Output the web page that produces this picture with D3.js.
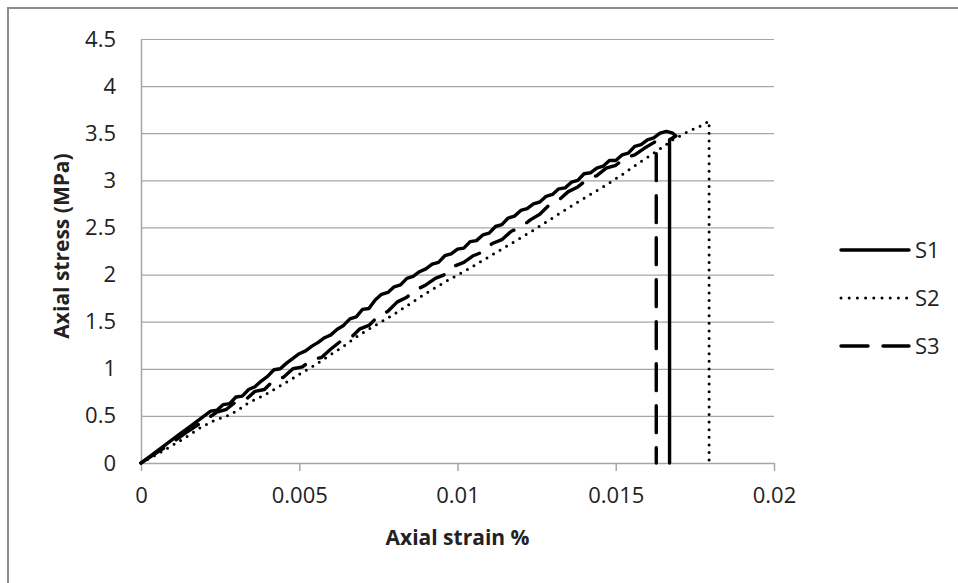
<!DOCTYPE html>
<html>
<head>
<meta charset="utf-8">
<script src="https://cdn.jsdelivr.net/npm/d3@7"></script>
<style>
  html, body { margin: 0; padding: 0; background: #fff; }
  svg { display: block; font-family: "Open Sans", sans-serif; }
</style>
</head>
<body>
<svg id="chart" width="958" height="583"></svg>
<script>
// Axis ticks
const xTicks = [0, 0.005, 0.01, 0.015, 0.02];
const yTicks = [0, 0.5, 1, 1.5, 2, 2.5, 3, 3.5, 4, 4.5];

// Series: [axial strain %, axial stress MPa]
const s1 = [
  [0,0],[0.0004,0.10],[0.0008,0.20],[0.0012,0.30],[0.0016,0.40],[0.0020,0.50],
  [0.0022,0.55],[0.0024,0.56],[0.0026,0.62],[0.0028,0.63],[0.0030,0.70],[0.0032,0.71],
  [0.0034,0.78],[0.0036,0.81],[0.0038,0.87],[0.0040,0.92],[0.0042,0.99],[0.0044,1.00],
  [0.0046,1.06],[0.0048,1.11],[0.0050,1.16],[0.0052,1.19],[0.0054,1.24],[0.0056,1.28],
  [0.0058,1.33],[0.0060,1.36],[0.0062,1.42],[0.0064,1.46],[0.0066,1.53],[0.0068,1.55],
  [0.0070,1.63],[0.0072,1.64],[0.0074,1.73],[0.0076,1.79],[0.0078,1.81],[0.0080,1.87],
  [0.0082,1.89],[0.0084,1.96],[0.0086,1.98],[0.0088,2.03],[0.0090,2.06],[0.0092,2.11],
  [0.0094,2.13],[0.0096,2.20],[0.0098,2.22],[0.0100,2.27],[0.0102,2.28],[0.0104,2.35],
  [0.0106,2.36],[0.0108,2.42],[0.0110,2.44],[0.0112,2.51],[0.0114,2.53],[0.0116,2.60],
  [0.0118,2.62],[0.0120,2.68],[0.0122,2.70],[0.0124,2.75],[0.0126,2.77],[0.0128,2.83],
  [0.0130,2.85],[0.0132,2.91],[0.0134,2.92],[0.0136,2.98],[0.0138,3.00],[0.0140,3.07],
  [0.0142,3.08],[0.0144,3.13],[0.0146,3.15],[0.0148,3.21],[0.0150,3.21],[0.0152,3.27],
  [0.0154,3.29],[0.0156,3.36],[0.0158,3.38],[0.0160,3.43],[0.0162,3.45],[0.0164,3.50],
  [0.0166,3.52],[0.0168,3.50],[0.0169,3.47],[0.0167,3.43],[0.0167,0]
];
const s2 = [
  [0,0],[0.0005,0.09],[0.0010,0.19],[0.0015,0.29],[0.0019,0.38],[0.0023,0.45],
  [0.0028,0.51],[0.0031,0.57],[0.0034,0.64],[0.0039,0.72],[0.0044,0.82],[0.0049,0.92],
  [0.0054,1.02],[0.0059,1.13],[0.0064,1.24],[0.0069,1.36],[0.0075,1.48],[0.0080,1.58],
  [0.0085,1.69],[0.0090,1.80],[0.0097,1.94],[0.0103,2.05],[0.0109,2.17],[0.0117,2.33],
  [0.0123,2.45],[0.0130,2.60],[0.0138,2.77],[0.0147,2.95],[0.0152,3.06],[0.0158,3.20],
  [0.0163,3.31],[0.0168,3.43],[0.0173,3.52],[0.0177,3.58],[0.01795,3.63],[0.01795,0]
];
const s3 = [
  [0,0],[0.0005,0.11],[0.0010,0.22],[0.0015,0.34],[0.0020,0.45],[0.0024,0.54],
  [0.0027,0.57],[0.0030,0.65],[0.0033,0.67],[0.0036,0.76],[0.0039,0.78],[0.0042,0.88],
  [0.0045,0.91],[0.0048,1.00],[0.0051,1.02],[0.0054,1.10],[0.0057,1.12],[0.0060,1.21],
  [0.0063,1.29],[0.0066,1.32],[0.0069,1.42],[0.0072,1.46],[0.0075,1.56],[0.0078,1.61],
  [0.0081,1.71],[0.0084,1.76],[0.0087,1.84],[0.0090,1.89],[0.0093,1.96],[0.0096,2.00],
  [0.0099,2.09],[0.0102,2.13],[0.0105,2.20],[0.0108,2.24],[0.0111,2.33],[0.0114,2.37],
  [0.0117,2.46],[0.0120,2.50],[0.0123,2.58],[0.0126,2.64],[0.0129,2.74],[0.0132,2.79],
  [0.0135,2.88],[0.0138,2.93],[0.0141,3.01],[0.0144,3.05],[0.0147,3.13],[0.0150,3.16],
  [0.0153,3.24],[0.0156,3.27],[0.0159,3.34],[0.0162,3.40],[0.01628,3.42],[0.01628,0]
];

const seriesNames = ["S1", "S2", "S3"];

const styles = {
  S1: { width: 3.4, dash: null, cap: "round" },
  S2: { width: 3, dash: "0,7.6", cap: "round" },
  S3: { width: 3.4, dash: "27,15", cap: "round" }
};

const svg = d3.select("#chart");
const plot = { left: 141, right: 774, top: 39, bottom: 463 };

// chart frame
svg.append("rect")
  .attr("x", 8).attr("y", 8)
  .attr("width", 1000).attr("height", 700)
  .attr("fill", "#fff").attr("stroke", "#8c8c8c").attr("stroke-width", 2);

const x = d3.scaleLinear().domain([0, 0.02]).range([plot.left, plot.right]);
const y = d3.scaleLinear().domain([0, 4.5]).range([plot.bottom, plot.top]);

// horizontal gridlines
svg.append("g")
  .attr("transform", `translate(${plot.left},0)`)
  .call(d3.axisLeft(y).tickValues(yTicks).tickSize(-(plot.right - plot.left)).tickFormat(""))
  .call(g => g.select(".domain").remove())
  .call(g => g.selectAll("line").attr("stroke", "#a6a6a6").attr("stroke-width", 1.2));

// y axis
svg.append("g")
  .attr("transform", `translate(${plot.left},0)`)
  .call(d3.axisLeft(y).tickValues(yTicks).tickSize(0).tickPadding(25).tickFormat(d => d3.format("")(d)))
  .call(g => g.select(".domain").attr("stroke", "#a6a6a6").attr("stroke-width", 1.5))
  .call(g => g.selectAll("text").attr("fill", "#222").style("font-size", "22px")
    .style("font-family", '"Open Sans", sans-serif'));

// x axis
svg.append("g")
  .attr("transform", `translate(0,${plot.bottom})`)
  .call(d3.axisBottom(x).tickValues(xTicks).tickSize(8).tickSizeOuter(0).tickPadding(16)
    .tickFormat(d => d3.format("")(d)))
  .call(g => g.select(".domain").attr("stroke", "#a6a6a6").attr("stroke-width", 1.5))
  .call(g => g.selectAll(".tick line").attr("stroke", "#a6a6a6").attr("stroke-width", 1.5))
  .call(g => g.selectAll("text").attr("fill", "#222").style("font-size", "22px")
    .style("font-family", '"Open Sans", sans-serif'));

// axis titles
svg.append("text")
  .attr("x", (plot.left + plot.right) / 2).attr("y", 545)
  .attr("text-anchor", "middle")
  .style("font-size", "21px").style("font-weight", "bold").attr("fill", "#222")
  .text("Axial strain %");

svg.append("text")
  .attr("transform", `translate(69,246) rotate(-90)`)
  .attr("text-anchor", "middle")
  .style("font-size", "21px").style("font-weight", "bold").attr("fill", "#222")
  .text("Axial stress (MPa)");

// series lines
const line = d3.line().x(d => x(d[0])).y(d => y(d[1]));
const data = { S1: s1, S2: s2, S3: s3 };

seriesNames.forEach(name => {
  const st = styles[name];
  svg.append("path")
    .datum(data[name])
    .attr("d", line)
    .attr("fill", "none")
    .attr("stroke", "#000")
    .attr("stroke-width", st.width)
    .attr("stroke-linecap", st.cap)
    .attr("stroke-linejoin", "round")
    .attr("stroke-dasharray", st.dash);
});

// legend
const legend = svg.append("g");
const legendY = d3.scalePoint().domain(seriesNames).range([250, 346]);
seriesNames.forEach(name => {
  const st = styles[name];
  const ly = legendY(name);
  legend.append("line")
    .attr("x1", 841).attr("x2", 909).attr("y1", ly).attr("y2", ly)
    .attr("stroke", "#000")
    .attr("stroke-width", st.width)
    .attr("stroke-linecap", st.cap)
    .attr("stroke-dasharray", name === "S2" ? "0,8.2" : st.dash);
  legend.append("text")
    .attr("x", 915).attr("y", ly).attr("dy", "0.35em")
    .style("font-size", "22px").attr("fill", "#222")
    .text(name);
});
</script>
</body>
</html>
